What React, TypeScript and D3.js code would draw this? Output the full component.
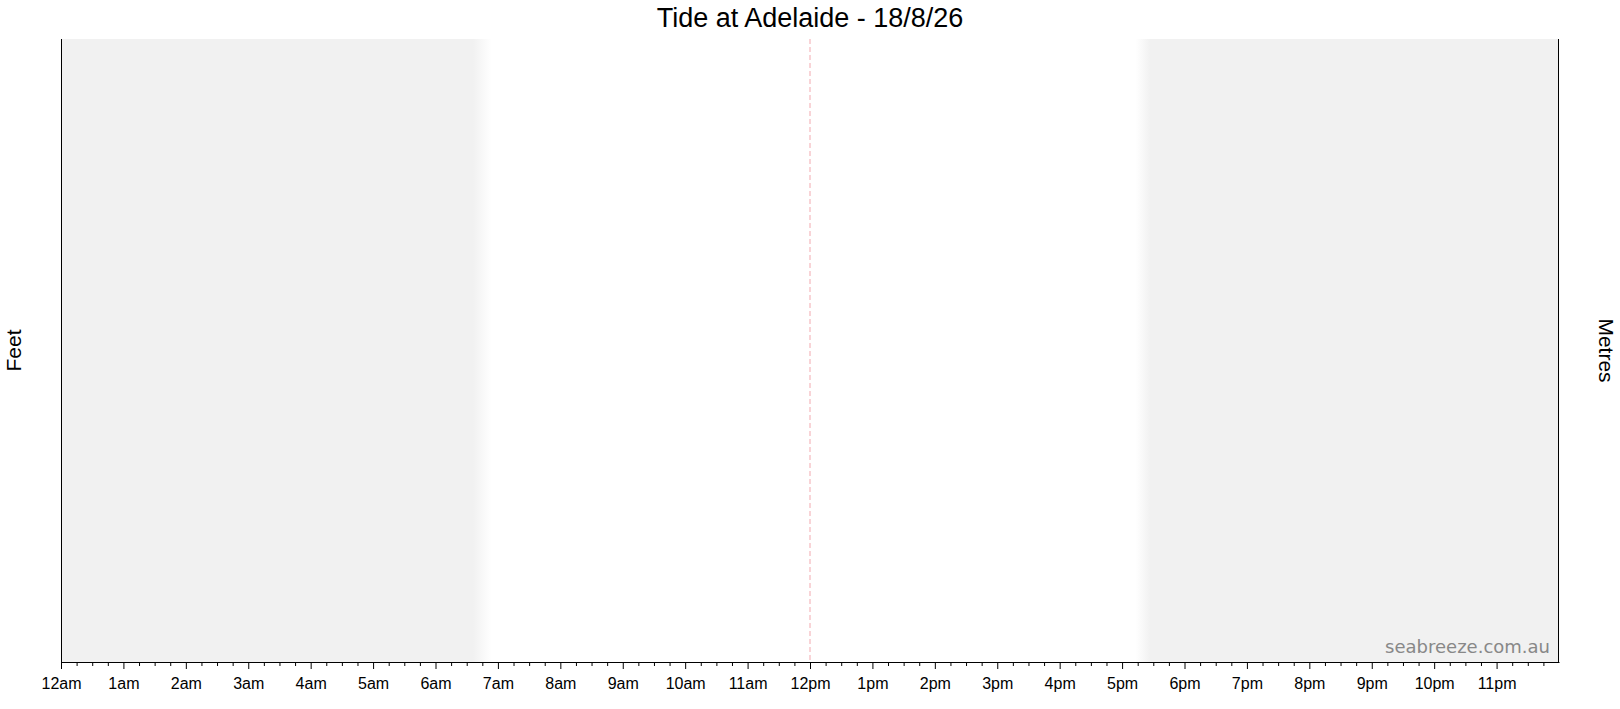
import React, { useRef, useEffect } from 'react';
import * as d3 from 'd3';

const title = 'Tide at Adelaide - 18/8/26';
const hourLabels = [
  '12am', '1am', '2am', '3am', '4am', '5am', '6am', '7am', '8am', '9am', '10am', '11am',
  '12pm', '1pm', '2pm', '3pm', '4pm', '5pm', '6pm', '7pm', '8pm', '9pm', '10pm', '11pm',
];
const hourValues = hourLabels.map((_, i) => i);
// darkness periods (hours), with the twilight fade between the two numbers
const sunriseFade = [6.6, 6.9];
const sunsetFade = [17.22, 17.45];
const noonLine = 12;

const W = 1620;
const H = 709;

const App: React.FC = () => {
  const svgRef = useRef<SVGSVGElement | null>(null);

  useEffect(() => {
    if (!svgRef.current) return;
    const margin = { top: 39, right: 61, bottom: 47, left: 61 };
    const innerWidth = W - margin.left - margin.right;
    const innerHeight = H - margin.top - margin.bottom;
    const svg = d3.select(svgRef.current);
    svg.selectAll('*').remove();
    svg.style('background-color', 'white');

    const x = d3.scaleLinear().domain([0, 24]).range([0, innerWidth]);
    const defs = svg.append('defs');

    const g = svg.append('g').attr('transform', `translate(${margin.left},${margin.top})`);

    // night shading
    const mGrad = defs.append('linearGradient').attr('id', 'morning')
      .attr('gradientUnits', 'userSpaceOnUse')
      .attr('x1', x(sunriseFade[0])).attr('x2', x(sunriseFade[1])).attr('y1', 0).attr('y2', 0);
    mGrad.append('stop').attr('offset', 0).attr('stop-color', '#f1f1f1');
    mGrad.append('stop').attr('offset', 1).attr('stop-color', '#ffffff');
    g.append('rect')
      .attr('x', x(0)).attr('y', 0)
      .attr('width', x(sunriseFade[1]) - x(0)).attr('height', innerHeight)
      .attr('fill', 'url(#morning)');

    const eGrad = defs.append('linearGradient').attr('id', 'evening')
      .attr('gradientUnits', 'userSpaceOnUse')
      .attr('x1', x(sunsetFade[0])).attr('x2', x(sunsetFade[1])).attr('y1', 0).attr('y2', 0);
    eGrad.append('stop').attr('offset', 0).attr('stop-color', '#ffffff');
    eGrad.append('stop').attr('offset', 1).attr('stop-color', '#f1f1f1');
    g.append('rect')
      .attr('x', x(sunsetFade[0])).attr('y', 0)
      .attr('width', x(24) - x(sunsetFade[0])).attr('height', innerHeight)
      .attr('fill', 'url(#evening)');

    // noon marker
    g.append('line')
      .attr('x1', x(noonLine)).attr('x2', x(noonLine))
      .attr('y1', 0).attr('y2', innerHeight)
      .attr('stroke', '#f2a9af').attr('stroke-width', 1)
      .attr('stroke-dasharray', '5,3');

    // side borders
    g.append('line').attr('x1', 0.5).attr('x2', 0.5).attr('y1', 0).attr('y2', innerHeight)
      .attr('stroke', '#000');
    g.append('line').attr('x1', innerWidth - 0.5).attr('x2', innerWidth - 0.5)
      .attr('y1', 0).attr('y2', innerHeight).attr('stroke', '#000');

    // axes
    const minor = d3.range(0, 24, 0.25).filter(h => h % 1 !== 0);
    g.append('g')
      .attr('transform', `translate(0,${innerHeight})`)
      .call(d3.axisBottom(x).tickValues(minor).tickSize(4).tickSizeOuter(0).tickFormat(() => ''))
      .call(a => a.select('.domain').remove());
    const ax = g.append('g')
      .attr('transform', `translate(0,${innerHeight})`)
      .call(
        d3.axisBottom(x)
          .tickValues(hourValues)
          .tickSize(7)
          .tickSizeOuter(0)
          .tickPadding(9)
          .tickFormat((d, i) => hourLabels[i])
      );
    ax.selectAll('text')
      .attr('font-family', '"Liberation Sans", Arial, sans-serif')
      .attr('font-size', 16)
      .attr('fill', '#000');
    ax.selectAll('line').attr('stroke', '#000');
    ax.select('.domain').attr('stroke', '#000');

    // watermark
    g.append('text')
      .attr('x', innerWidth - 9).attr('y', innerHeight - 9)
      .attr('text-anchor', 'end')
      .attr('font-family', '"DejaVu Sans", Verdana, sans-serif')
      .attr('font-size', 18)
      .attr('fill', '#888')
      .text('seabreeze.com.au');

    // title and axis titles
    svg.append('text')
      .attr('x', margin.left + innerWidth / 2).attr('y', 27)
      .attr('text-anchor', 'middle')
      .attr('font-family', '"Liberation Sans", Arial, sans-serif')
      .attr('font-size', 27)
      .attr('fill', '#000')
      .text(title);

    svg.append('text')
      .attr('transform', `translate(21,${margin.top + innerHeight / 2}) rotate(-90)`)
      .attr('text-anchor', 'middle')
      .attr('font-family', '"Liberation Sans", Arial, sans-serif')
      .attr('font-size', 21)
      .attr('fill', '#000')
      .text('Feet');

    svg.append('text')
      .attr('transform', `translate(1599,${margin.top + innerHeight / 2}) rotate(90)`)
      .attr('text-anchor', 'middle')
      .attr('font-family', '"Liberation Sans", Arial, sans-serif')
      .attr('font-size', 21)
      .attr('fill', '#000')
      .text('Metres');
  }, []);

  return (
    <div style={{ position: 'fixed', left: 0, top: 0, width: W, height: H, background: '#fff' }}>
      <svg ref={svgRef} width={W} height={H} style={{ display: 'block' }} />
    </div>
  );
};

export default App;
